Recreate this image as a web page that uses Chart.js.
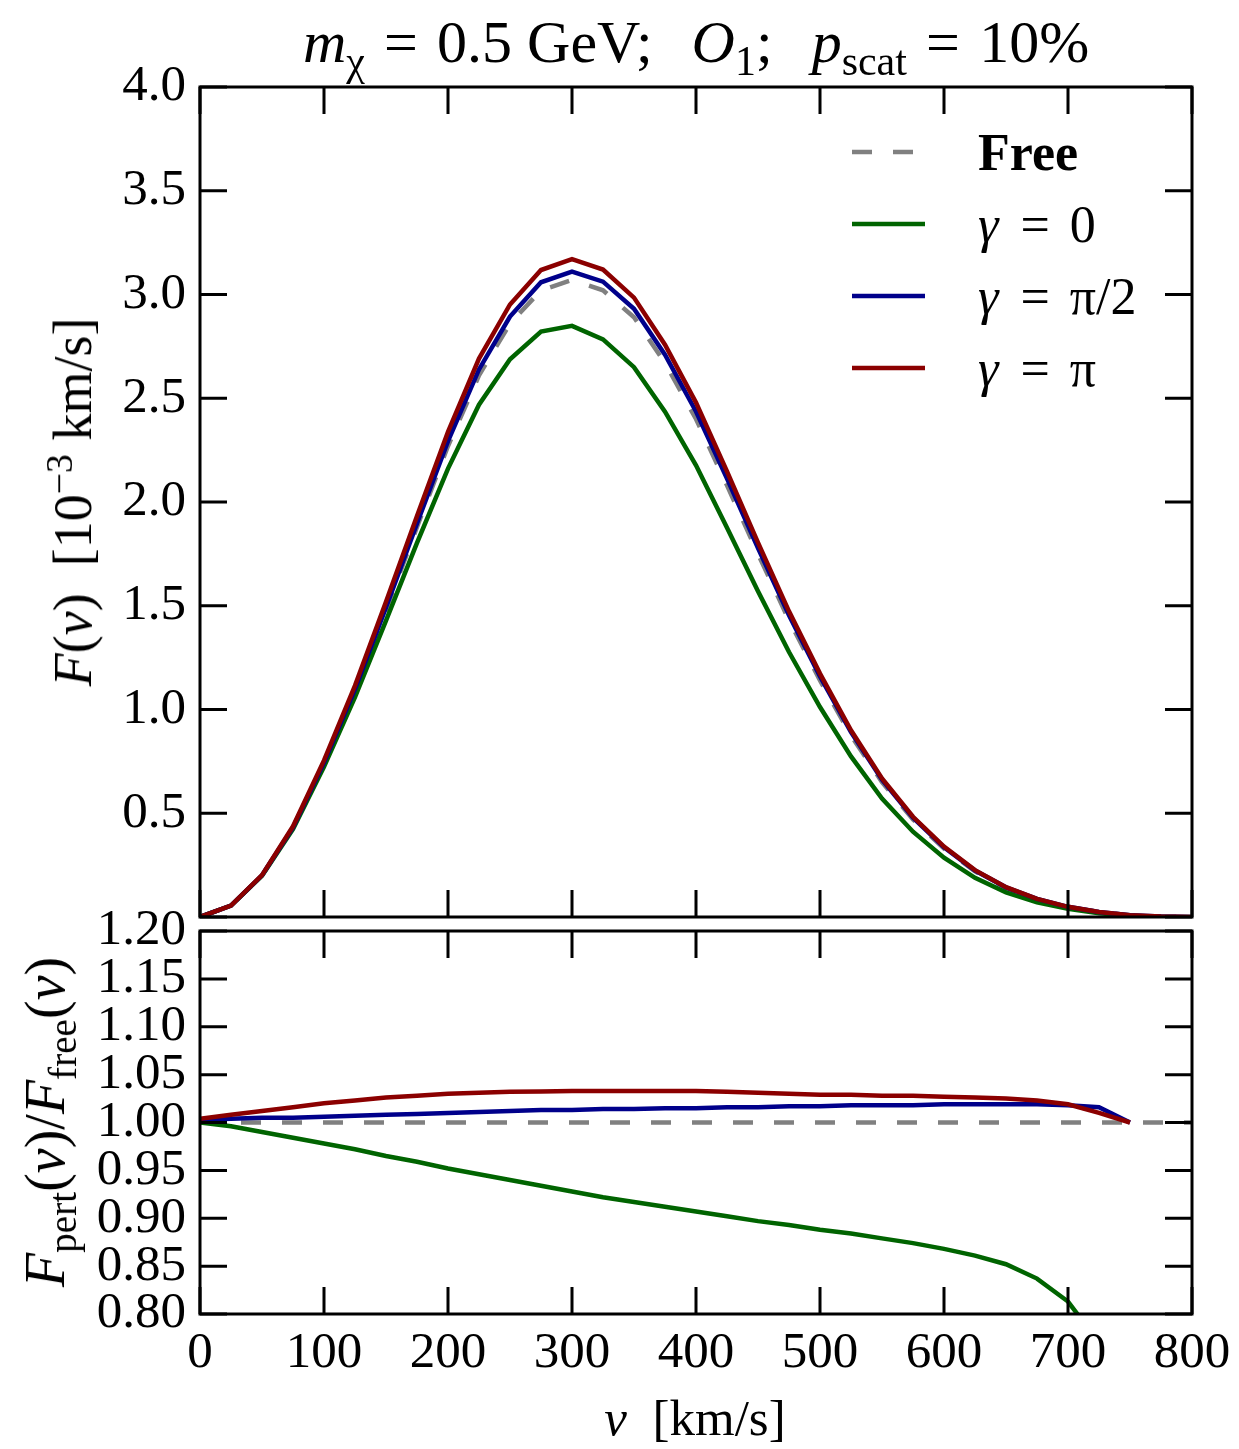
<!DOCTYPE html>
<html><head><meta charset="utf-8">
<script src="https://cdn.jsdelivr.net/npm/chart.js@4.4.0/dist/chart.umd.min.js"></script>
<style>
html,body{margin:0;padding:0;background:#fff;}
#wrap{position:relative;width:1239px;height:1449px;background:#fff;font-family:'Liberation Serif',serif;color:#000;overflow:hidden;}
canvas{position:absolute;left:0;}
.t{position:absolute;white-space:nowrap;line-height:1;}
sub,sup{font-size:0.7em;line-height:0;}
.eq{margin:0 0.32em;}
.gap{display:inline-block;width:0.65em;}
</style></head><body>
<div id="wrap">
<canvas id="topChart" width="1239" height="930" style="top:0"></canvas>
<canvas id="botChart" width="1239" height="579" style="top:870px"></canvas>
<div class="t" style="left:696px;top:42px;transform:translate(-50%,-50%);font-size:60px"><i>m</i><sub>χ</sub><span class="eq">=</span>0.5 GeV;<span class="gap"></span><i>O</i><sub>1</sub>;<span class="gap"></span><i>p</i><sub>scat</sub><span class="eq">=</span>10%</div>
<div class="t" style="left:73px;top:502px;transform:translate(-50%,-50%) rotate(-90deg);font-size:54px"><i>F</i>(<i>v</i>)&nbsp; [10<sup>−3</sup> km/s]</div>
<div class="t" style="left:45px;top:1122px;transform:translate(-50%,-50%) rotate(-90deg);font-size:56px"><i>F</i><sub>pert</sub>(<i>v</i>)/<i>F</i><sub>free</sub>(<i>v</i>)</div>
<div class="t" style="left:695px;top:1418px;transform:translate(-50%,-50%);font-size:51px"><i>v</i>&nbsp; [km/s]</div>
</div>
<script>
// ---- data ----
const velocity = [0,25,50,75,100,125,150,175,200,225,250,275,300,325,350,375,400,425,450,475,500,525,550,575,600,625,650,675,700,725,750,775,800];
const freeF = [0,0.055,0.200,0.430,0.740,1.090,1.480,1.880,2.270,2.610,2.860,3.020,3.070,3.020,2.890,2.670,2.400,2.080,1.750,1.430,1.140,0.875,0.650,0.470,0.330,0.220,0.140,0.085,0.048,0.024,0.009,0.002,0];
const gamma0F = [0,0.055,0.198,0.423,0.724,1.060,1.428,1.803,2.161,2.469,2.688,2.821,2.849,2.784,2.650,2.435,2.177,1.876,1.570,1.277,1.012,0.774,0.571,0.411,0.286,0.189,0.119,0.071,0.039,0.018,0.006,0.001,0];
const gammaHalfPiF = [0,0.055,0.201,0.432,0.744,1.098,1.492,1.897,2.293,2.639,2.894,3.059,3.110,3.062,2.931,2.710,2.436,2.113,1.778,1.454,1.159,0.891,0.662,0.479,0.336,0.224,0.143,0.087,0.049,0.024,0.009,0.002,0];
const gammaPiF = [0,0.055,0.202,0.437,0.755,1.115,1.519,1.933,2.338,2.691,2.952,3.118,3.171,3.120,2.985,2.758,2.479,2.147,1.804,1.473,1.173,0.900,0.668,0.483,0.339,0.226,0.144,0.087,0.049,0.024,0.009,0.002,0];

const ratioVelocity = [0,25,50,75,100,125,150,175,200,225,250,275,300,325,350,375,400,425,450,475,500,525,550,575,600,625,650,675,700,725,750];
const ratioGamma0 = [1.000,0.996,0.990,0.984,0.978,0.972,0.965,0.959,0.952,0.946,0.940,0.934,0.928,0.922,0.917,0.912,0.907,0.902,0.897,0.893,0.888,0.884,0.879,0.874,0.868,0.861,0.852,0.837,0.813,0.770,0.700];
const ratioGammaHalfPi = [1.003,1.004,1.005,1.005,1.006,1.007,1.008,1.009,1.010,1.011,1.012,1.013,1.013,1.014,1.014,1.015,1.015,1.016,1.016,1.017,1.017,1.018,1.018,1.018,1.019,1.019,1.019,1.019,1.018,1.016,1.000];
const ratioGammaPi = [1.004,1.008,1.012,1.016,1.020,1.023,1.026,1.028,1.030,1.031,1.032,1.0325,1.033,1.033,1.033,1.033,1.033,1.032,1.031,1.030,1.029,1.029,1.028,1.028,1.027,1.026,1.025,1.023,1.019,1.010,1.000];
const freeRatioVelocity = [0,800];
const freeRatio = [1.0,1.0];

const topTicksY = [0,0.5,1.0,1.5,2.0,2.5,3.0,3.5,4.0];
const botTicksY = [0.80,0.85,0.90,0.95,1.00,1.05,1.10,1.15,1.20];
const labels = ['Free','γ = 0','γ = π/2','γ = π'];
const colors = ['#808080','#006400','#00008b','#8b0000'];

// ---- helpers ----
const FONT = "'Liberation Serif', serif";
const pts = (xs, ys) => xs.map((x,i)=>({x:x, y:ys[i]}));
function ds(i, xs, ys){
  return {label:labels[i], data:pts(xs,ys), borderColor:colors[i], backgroundColor:colors[i],
    borderWidth:4.5, borderDash: i===0?[20,21]:[], pointRadius:0, tension:0, fill:false,
    order: 3-i};
}

const frameTicks = {
  id:'frameTicks',
  afterDatasetsDraw(chart){
    const {ctx, chartArea:a, scales} = chart;
    const L = 27;
    ctx.save();
    ctx.strokeStyle='#000'; ctx.lineWidth=3; ctx.setLineDash([]);
    ctx.beginPath();
    scales.x.ticks.forEach(t=>{
      const px = scales.x.getPixelForValue(t.value);
      ctx.moveTo(px,a.bottom); ctx.lineTo(px,a.bottom-L);
      ctx.moveTo(px,a.top); ctx.lineTo(px,a.top+L);
    });
    scales.y.ticks.forEach(t=>{
      const py = scales.y.getPixelForValue(t.value);
      ctx.moveTo(a.left,py); ctx.lineTo(a.left+L,py);
      ctx.moveTo(a.right,py); ctx.lineTo(a.right-L,py);
    });
    ctx.stroke();
    ctx.strokeRect(a.left,a.top,a.right-a.left,a.bottom-a.top);
    ctx.restore();
  }
};

const innerLegend = {
  id:'innerLegend',
  afterDraw(chart){
    const {ctx, chartArea:a} = chart;
    const dss = chart.data.datasets;
    ctx.save();
    dss.forEach((d,i)=>{
      const y = a.top + 65 + i*72;
      ctx.strokeStyle = d.borderColor; ctx.lineWidth = 4.5;
      ctx.setLineDash(d.borderDash||[]);
      ctx.beginPath(); ctx.moveTo(a.left+652,y); ctx.lineTo(a.left+725,y); ctx.stroke();
      ctx.setLineDash([]);
      ctx.fillStyle='#000'; ctx.textBaseline='alphabetic'; ctx.textAlign='left';
      let x = a.left+778;
      const by = y+18;
      if (d.label.startsWith('γ')){
        const parts = d.label.split(' = ');
        ctx.font = "italic 52px "+FONT;
        ctx.fillText(parts[0], x, by); x += ctx.measureText(parts[0]).width + 22;
        ctx.font = "52px "+FONT;
        ctx.fillText('=', x, by); x += ctx.measureText('=').width + 20;
        ctx.fillText(parts[1], x, by);
      } else {
        ctx.font = "bold 52px "+FONT;
        ctx.fillText(d.label, x, by);
      }
    });
    ctx.restore();
  }
};

const tickFont = {family:FONT, size:51, lineHeight:1};

function yAxis(min,max,step,fmt){
  return {type:'linear', min:min, max:max,
    ticks:{stepSize:step, autoSkip:false, font:tickFont, color:'#000', padding:14, callback:fmt},
    grid:{display:false, drawTicks:false}, border:{display:false},
    afterFit:s=>{s.width=200; s.paddingTop=0; s.paddingBottom=0;}};
}

new Chart(document.getElementById('topChart'), {
  type:'line',
  data:{datasets:[ds(0,velocity,freeF), ds(1,velocity,gamma0F), ds(2,velocity,gammaHalfPiF), ds(3,velocity,gammaPiF)]},
  options:{responsive:false, animation:false, devicePixelRatio:1,
    layout:{padding:{left:0,right:47,top:87,bottom:13}},
    plugins:{legend:{display:false}, tooltip:{enabled:false}, title:{display:false}},
    scales:{
      x:{type:'linear', min:0, max:800, ticks:{display:false, stepSize:100}, grid:{display:false, drawTicks:false}, border:{display:false},
         afterFit:s=>{s.height=0; s.paddingLeft=0; s.paddingRight=0;}},
      y:yAxis(topTicksY[0], topTicksY[topTicksY.length-1], 0.5, v=> v===0 ? '' : Number(v).toFixed(1))
    }},
  plugins:[frameTicks, innerLegend]
});

new Chart(document.getElementById('botChart'), {
  type:'line',
  data:{datasets:[ds(0,freeRatioVelocity,freeRatio), ds(1,ratioVelocity,ratioGamma0), ds(2,ratioVelocity,ratioGammaHalfPi), ds(3,ratioVelocity,ratioGammaPi)]},
  options:{responsive:false, animation:false, devicePixelRatio:1,
    layout:{padding:{left:0,right:47,top:61,bottom:55}},
    plugins:{legend:{display:false}, tooltip:{enabled:false}, title:{display:false}},
    scales:{
      x:{type:'linear', min:0, max:800, ticks:{stepSize:100, font:tickFont, color:'#000', padding:14, maxRotation:0, autoSkip:false},
         grid:{display:false, drawTicks:false}, border:{display:false},
         afterFit:s=>{s.height=80; s.paddingLeft=0; s.paddingRight=0;}},
      y:yAxis(botTicksY[0], botTicksY[botTicksY.length-1], 0.05, v=> Number(v).toFixed(2))
    }},
  plugins:[frameTicks]
});
</script>
</body></html>
